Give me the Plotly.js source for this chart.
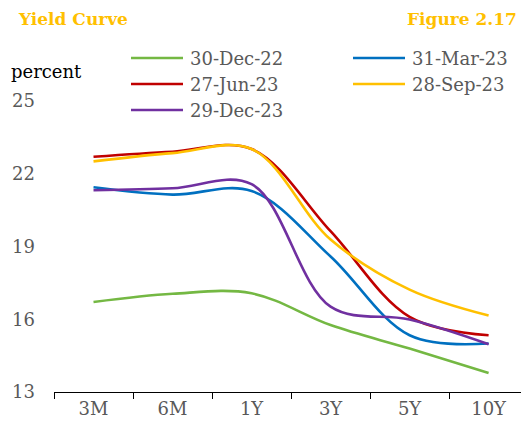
<!DOCTYPE html>
<html>
<head>
<meta charset="utf-8">
<script src="https://cdn.plot.ly/plotly-3.0.1.min.js"></script>
<style>
  html, body { margin: 0; padding: 0; background: #ffffff; }
  #chart { width: 521px; height: 428px; }
</style>
</head>
<body>
<div id="chart"></div>
<script>
// Government securities yield curve by tenor, percent
const tenors = ['3M', '6M', '1Y', '3Y', '5Y', '10Y'];

const seriesNames = ['30-Dec-22', '31-Mar-23', '27-Jun-23', '28-Sep-23', '29-Dec-23'];
const seriesColors = ['#74B843', '#0070C0', '#C00000', '#FFC000', '#7030A0'];

const dec22 = [16.71, 17.05, 17.07, 15.76, 14.79, 13.78];
const mar23 = [21.44, 21.14, 21.29, 18.59, 15.34, 15.00];
const jun23 = [22.70, 22.91, 23.02, 19.63, 16.10, 15.34];
const sep23 = [22.51, 22.85, 23.02, 19.29, 17.22, 16.15];
const dec23 = [21.32, 21.40, 21.57, 16.52, 15.99, 14.97];

const seriesValues = [dec22, mar23, jun23, sep23, dec23];

const yTicks = [13, 16, 19, 22, 25];

const FONT = 'DejaVu Serif, Liberation Serif, serif';
const W = 521, H = 428;
const M = { l: 54, r: 0, t: 101, b: 36 };
const plotW = W - M.l - M.r;
const plotH = H - M.t - M.b;

// pixel position on the page -> paper coordinates
const px = x => (x - M.l) / plotW;
const py = y => (H - M.b - y) / plotH;

const traces = seriesNames.map((name, i) => ({
  type: 'scatter',
  mode: 'lines',
  name: name,
  x: tenors,
  y: seriesValues[i],
  line: { color: seriesColors[i], width: 2.6, shape: 'spline', smoothing: 1 },
  hoverinfo: 'skip',
  showlegend: false
}));

// two-column key above the plot, filled row by row
const shapes = [];
const annotations = [];
const colX = [131, 353];
const rowY = [58, 84, 110];
seriesNames.forEach((name, i) => {
  const cx = colX[i % 2];
  const cy = rowY[Math.floor(i / 2)];
  shapes.push({
    type: 'line', xref: 'paper', yref: 'paper',
    x0: px(cx), x1: px(cx + 52), y0: py(cy), y1: py(cy),
    line: { color: seriesColors[i], width: 2.6 }
  });
  annotations.push({
    xref: 'paper', yref: 'paper', x: px(cx + 57), y: py(cy),
    xanchor: 'left', yanchor: 'middle', showarrow: false,
    text: name, font: { family: FONT, size: 18, color: '#595959' }
  });
});

annotations.push(
  {
    xref: 'paper', yref: 'paper', x: px(16), y: py(19),
    xanchor: 'left', yanchor: 'middle', showarrow: false,
    text: '<b>Yield Curve</b>', font: { family: FONT, size: 17, color: '#FFC000' }
  },
  {
    xref: 'paper', yref: 'paper', x: px(519), y: py(19),
    xanchor: 'right', yanchor: 'middle', showarrow: false,
    text: '<b>Figure 2.17</b>', font: { family: FONT, size: 17, color: '#FFC000' }
  },
  {
    xref: 'paper', yref: 'paper', x: px(9), y: py(72),
    xanchor: 'left', yanchor: 'middle', showarrow: false,
    text: 'percent', font: { family: FONT, size: 18, color: '#000000' }
  }
);

const layout = {
  width: W, height: H,
  margin: M,
  paper_bgcolor: '#ffffff',
  plot_bgcolor: '#ffffff',
  font: { family: FONT, size: 18, color: '#595959' },
  showlegend: false,
  xaxis: {
    type: 'category',
    categoryorder: 'array',
    categoryarray: tenors,
    range: [-0.5, 5.41],
    tickson: 'boundaries',
    ticks: 'outside',
    ticklen: 6,
    tickcolor: '#000000',
    tickwidth: 1,
    showline: true,
    linecolor: '#000000',
    linewidth: 1,
    showgrid: false,
    zeroline: false,
    tickfont: { family: FONT, size: 18, color: '#595959' },
    fixedrange: true
  },
  yaxis: {
    range: [13, 25],
    tickmode: 'array',
    tickvals: yTicks,
    ticktext: yTicks.map(String),
    ticks: '',
    showline: false,
    showgrid: false,
    zeroline: false,
    ticklabelstandoff: 18,
    tickfont: { family: FONT, size: 18, color: '#595959' },
    fixedrange: true
  },
  shapes: shapes,
  annotations: annotations
};

Plotly.newPlot('chart', traces, layout, { displayModeBar: false, staticPlot: true });
</script>
</body>
</html>
